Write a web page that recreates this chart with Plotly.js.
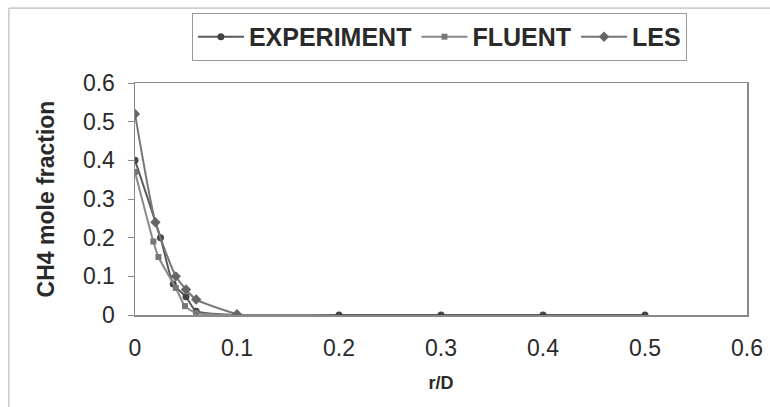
<!DOCTYPE html>
<html>
<head>
<meta charset="utf-8">
<script src="https://cdn.plot.ly/plotly-3.0.1.min.js"></script>
<style>html,body{margin:0;padding:0;background:#fff;}#chart{width:770px;height:407px;}</style>
</head>
<body>
<div id="chart"></div>
<script>
// Data
const expX = [0, 0.025, 0.0375, 0.05, 0.06, 0.1, 0.2, 0.3, 0.4, 0.5];
const expY = [0.40, 0.20, 0.08, 0.047, 0.01, 0, 0, 0, 0, 0];
const fluentX = [0, 0.018, 0.023, 0.04, 0.049, 0.06, 0.1];
const fluentY = [0.37, 0.19, 0.15, 0.07, 0.023, 0.005, 0];
const lesX = [0, 0.02, 0.04, 0.05, 0.06, 0.1];
const lesY = [0.52, 0.24, 0.10, 0.066, 0.04, 0.002];
const seriesNames = ["EXPERIMENT", "FLUENT", "LES"];
const xTicks = [0, 0.1, 0.2, 0.3, 0.4, 0.5, 0.6];
const xTickText = ["0", "0.1", "0.2", "0.3", "0.4", "0.5", "0.6"];
const yTicks = [0, 0.1, 0.2, 0.3, 0.4, 0.5, 0.6];
const yTickText = ["0", "0.1", "0.2", "0.3", "0.4", "0.5", "0.6"];

const traces = [
  {x: expX, y: expY, name: seriesNames[0], mode: "lines+markers",
   line: {color: "#5a5a5a", width: 2, shape: "spline", smoothing: 0.6},
   marker: {symbol: "circle", size: 7, color: "#444"}},
  {x: fluentX, y: fluentY, name: seriesNames[1], mode: "lines+markers",
   line: {color: "#8a8a8a", width: 2, shape: "spline", smoothing: 0.6},
   marker: {symbol: "square", size: 6, color: "#777"}},
  {x: lesX, y: lesY, name: seriesNames[2], mode: "lines+markers",
   line: {color: "#777", width: 2, shape: "spline", smoothing: 0.6},
   marker: {symbol: "diamond", size: 8, color: "#666"}}
];

const font = "Liberation Sans, Arial, sans-serif";
const layout = {
  width: 770, height: 407,
  margin: {l: 135, r: 23, t: 83, b: 92},
  paper_bgcolor: "#fff", plot_bgcolor: "#fff",
  font: {family: font, color: "#222"},
  showlegend: true,
  legend: {
    orientation: "h", x: 0.093, xanchor: "left", y: 1.302, yanchor: "top",
    font: {family: font, size: 25, color: "#2a2a2a", weight: "bold"},
    bordercolor: "#999", borderwidth: 1, bgcolor: "#fff",
    itemwidth: 46, tracegroupgap: 0
  },
  xaxis: {
    range: [0, 0.6], tickvals: xTicks, ticktext: xTickText,
    showgrid: false, zeroline: false, showline: true, mirror: true,
    linecolor: "#8a8a8a", linewidth: 1.5, ticks: "", ticklabelstandoff: 12,
    tickfont: {family: font, size: 23, color: "#2a2a2a"},
    title: {text: "r/D", font: {family: font, size: 18, color: "#2a2a2a", weight: "bold"}, standoff: 16}
  },
  yaxis: {
    range: [0, 0.6], tickvals: yTicks, ticktext: yTickText,
    showgrid: false, zeroline: false, showline: true, mirror: true,
    linecolor: "#8a8a8a", linewidth: 1.5, ticks: "outside", ticklen: 6, tickcolor: "#8a8a8a",
    ticklabelstandoff: 8,
    tickfont: {family: font, size: 23, color: "#2a2a2a"},
    title: {text: "CH4 mole fraction", font: {family: font, size: 23, color: "#2a2a2a", weight: "bold"}, standoff: 22}
  },
  shapes: [
    {type: "rect", xref: "paper", yref: "paper", x0: -0.206, x1: 1.06, y0: -0.45, y1: 1.323,
     line: {color: "#aaa", width: 1}, fillcolor: "rgba(0,0,0,0)", layer: "below"}
  ]
};
Plotly.newPlot("chart", traces, layout, {displayModeBar: false, staticPlot: true});
</script>
</body>
</html>
